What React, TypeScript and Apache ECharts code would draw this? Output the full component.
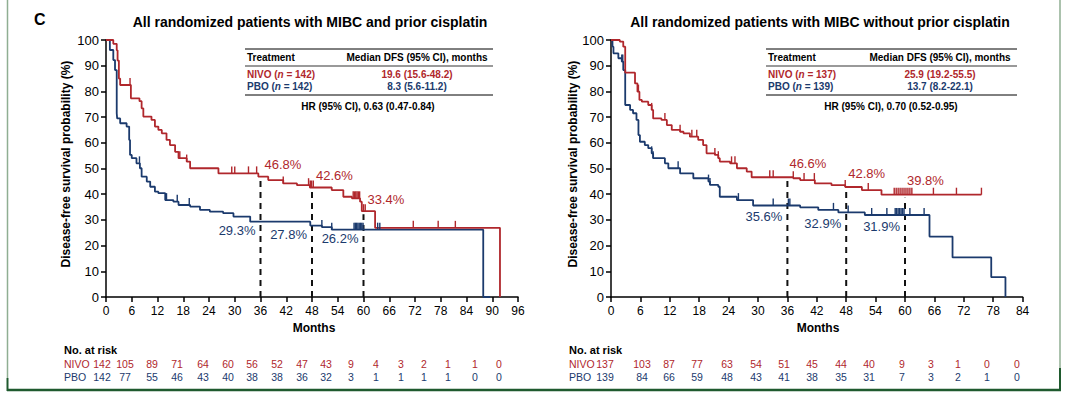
import React, { useEffect, useRef } from 'react';
import * as echarts from 'echarts';

const RED = '#b0272c';
const BLUE = '#1b3a6d';
const FONT = '"Liberation Sans", Arial, Helvetica, sans-serif';

// ---------- Data ----------
const leftTitle = 'All randomized patients with MIBC and prior cisplatin';
const rightTitle = 'All randomized patients with MIBC without prior cisplatin';

const leftNivoCurve: [number, number][] = [
  [0, 100], [1.7, 98.5], [2.5, 96], [2.7, 92], [3.0, 85], [3.3, 82.5], [5.8, 77.3], [7.8, 76.2],
  [8.3, 73.4], [8.7, 70.2], [10.6, 68.9], [11.4, 66.3], [12.2, 65], [13.0, 63.7], [14.1, 61.1],
  [14.9, 59.1], [16.1, 56.5], [16.9, 54], [18.8, 52.7], [19.6, 50.1], [26.2, 48.1], [35.5, 46.8],
  [37.8, 45.5], [41.3, 44.2], [44.5, 43.5], [47.5, 42.6], [52.6, 41.6], [55.3, 39.0], [57.3, 38.4],
  [59.2, 37.1], [59.6, 33.4], [62.7, 26.9], [91.8, 0],
];
const leftPboCurve: [number, number][] = [
  [0, 100], [0.9, 96.1], [1.7, 92.2], [2.1, 88.3], [2.5, 71.5], [2.6, 69.5], [3.3, 67.6], [4.8, 66.3],
  [5.4, 61.1], [5.6, 55.3], [6.0, 54], [7.1, 52], [7.9, 50.1], [8.3, 46.8], [9.5, 44.9], [10.3, 42.9],
  [11.4, 41], [12.2, 40.4], [13.8, 37.7], [15.7, 37.1], [16.9, 35.8], [19.6, 35.2], [21.9, 33.9],
  [24.2, 33.2], [27.3, 32.6], [29.7, 31.3], [33.6, 29.3], [47.6, 27.8], [50.3, 27.2], [52.6, 26.2],
  [87.9, 0], [89.5, 0],
];
const rightNivoCurve: [number, number][] = [
  [0, 100], [1.8, 99.4], [2.5, 97.4], [2.9, 87.3], [4.9, 83.1], [5.4, 79.9], [5.8, 76.7], [6.3, 76],
  [7.6, 74.7], [8.3, 72.8], [8.6, 69.5], [10.3, 68.9], [11.4, 66.9], [12.4, 65], [14.1, 64.3],
  [14.8, 63.7], [16.1, 62.4], [17.8, 61.1], [18.8, 59.1], [19.5, 55.9], [21.2, 55.3], [21.9, 54],
  [22.2, 52.7], [24.3, 52], [25.7, 50.1], [27.7, 48.8], [28.7, 46.6], [37.2, 46.2], [38.6, 45.5],
  [41.6, 44.2], [45.0, 43.5], [47.8, 42.8], [51.2, 41.6], [55.2, 39.8], [75.6, 39.8],
];
const rightPboCurve: [number, number][] = [
  [0, 100], [0.3, 97.4], [0.5, 94.8], [1.5, 92.9], [2.2, 91.6], [2.5, 88.3], [2.9, 74.7], [3.9, 72.8],
  [4.5, 71.5], [5.2, 68.9], [5.6, 63], [5.9, 60.4], [6.9, 59.1], [7.6, 57.9], [8.3, 55.9], [8.6, 54],
  [11.0, 52], [11.7, 50.1], [14.1, 48.1], [16.8, 46.2], [19.9, 44.9], [20.2, 43.6], [21.9, 42.9],
  [22.2, 39], [25.7, 37.7], [29.0, 35.6], [38.6, 34.9], [42.3, 33.9], [46.4, 32.9], [51.8, 31.9],
  [65.0, 23.5], [69.7, 15.4], [77.6, 7.7], [80.5, 0],
];

const leftNivoCensor = [5.6, 17.2, 18.8, 29.3, 30.0, 33.2, 35.1, 41.3, 47.2, 47.6, 47.9, 48.3,
  57.6, 57.9, 58.2, 58.5, 58.8, 59.1, 60.0, 60.4, 71.6, 77.4, 81.4];
const leftPboCensor = [7.8, 14.1, 16.6, 19.4, 50.3, 52.6, 57.8, 58.1, 58.4, 58.7, 59.0, 59.3, 59.6,
  59.9, 63.3, 63.8];
const rightNivoCensor = [5.6, 8.3, 11.0, 14.1, 16.5, 17.5, 21.2, 21.9, 24.6, 25.3, 32.4, 33.1, 37.2,
  39.4, 41.5, 47.8, 52.5, 57.8, 58.2, 58.6, 59.0, 59.4, 59.8, 60.2, 60.6, 61.0, 61.4, 65.8, 70.5, 75.6];
const rightPboCensor = [2.2, 2.4, 8.3, 8.6, 13.7, 19.9, 20.2, 26.0, 33.1, 36.2, 36.5, 45.4, 48.4,
  53.2, 56.3, 58.0, 58.3, 58.6, 58.9, 59.2, 59.5, 59.8, 61.0, 63.9];

const landmarkMonths = [36, 48, 60];
const leftNivoLandmark = [46.8, 42.6, 33.4];
const leftPboLandmark = [29.3, 27.8, 26.2];
const rightNivoLandmark = [46.6, 42.8, 39.8];
const rightPboLandmark = [35.6, 32.9, 31.9];

const leftRiskNivo = [142, 105, 89, 71, 64, 60, 56, 52, 47, 43, 9, 4, 3, 2, 1, 1, 0];
const leftRiskPbo = [142, 77, 55, 46, 43, 40, 38, 38, 36, 32, 3, 1, 1, 1, 1, 0, 0];
const rightRiskNivo = [137, 103, 87, 77, 63, 54, 51, 45, 44, 40, 9, 3, 1, 0, 0];
const rightRiskPbo = [139, 84, 66, 59, 48, 43, 41, 38, 35, 31, 7, 3, 2, 1, 0];

const leftTable = { nivo: '142', pbo: '142', nivoMedian: '19.6 (15.6-48.2)', pboMedian: '8.3 (5.6-11.2)', hr: 'HR (95% CI), 0.63 (0.47-0.84)' };
const rightTable = { nivo: '137', pbo: '139', nivoMedian: '25.9 (19.2-55.5)', pboMedian: '13.7 (8.2-22.1)', hr: 'HR (95% CI), 0.70 (0.52-0.95)' };

// ---------- layout (pixel columns of the risk tables) ----------
const leftRiskX = [102, 125, 152, 177, 203, 228, 252, 277, 302, 326, 351, 376, 401, 424, 448, 475, 499];
const rightRiskX = [605, 642, 669, 697, 727, 756, 784, 812, 841, 869, 902, 931, 958, 987, 1017];

// ---------- helpers ----------
function stepAt(curve: [number, number][], t: number) {
  let v = curve[0][1];
  for (const [x, y] of curve) {
    if (x <= t) v = y; else break;
  }
  return v;
}

function txt(x: number, y: number, text: string, o: any = {}) {
  return {
    type: 'text', x, y, silent: true, rotation: o.rotation || 0,
    style: {
      text, fill: o.fill || '#000', fontSize: o.size || 12, fontWeight: o.weight || 'normal',
      fontFamily: FONT, align: o.align || 'left', verticalAlign: 'middle', rich: o.rich,
    },
  };
}
function hline(x1: number, x2: number, y: number, stroke: string, w: number) {
  return { type: 'line', silent: true, shape: { x1, y1: y, x2, y2: y }, style: { stroke, lineWidth: w } };
}
function vline(x: number, y1: number, y2: number, stroke: string, w: number) {
  return { type: 'line', silent: true, shape: { x1: x, y1, x2: x, y2 }, style: { stroke, lineWidth: w } };
}

function tableGraphics(x0: number, x1: number, col: number, hrX: number, d: any) {
  const rich = (c: string) => ({
    a: { fill: c, fontSize: 10, fontWeight: 'bold', fontFamily: FONT },
    i: { fill: c, fontSize: 10, fontWeight: 'bold', fontStyle: 'italic', fontFamily: FONT },
  });
  return [
    hline(x0, x1, 49, '#000', 1),
    txt(x0 + 2, 57.5, 'Treatment', { size: 10, weight: 'bold' }),
    txt(col, 57.5, 'Median DFS (95% CI), months', { size: 10, weight: 'bold', align: 'center' }),
    hline(x0, x1, 66, '#999', 2),
    txt(x0 + 2, 74.5, `{a|NIVO (}{i|n}{a| = ${d.nivo})}`, { rich: rich(RED) }),
    txt(col, 74.5, d.nivoMedian, { size: 10, weight: 'bold', align: 'center', fill: RED }),
    txt(x0 + 2, 86.5, `{a|PBO (}{i|n}{a| = ${d.pbo})}`, { rich: rich(BLUE) }),
    txt(col, 86.5, d.pboMedian, { size: 10, weight: 'bold', align: 'center', fill: BLUE }),
    hline(x0, x1, 95, '#000', 1),
    txt(hrX, 106, d.hr, { size: 10, weight: 'bold', align: 'center' }),
  ];
}

function riskGraphics(xLabel: number, xs: number[], nivo: number[], pbo: number[]) {
  const els: any[] = [
    txt(xLabel, 350, 'No. at risk', { size: 11, weight: 'bold' }),
    txt(xLabel, 364, 'NIVO', { size: 10.5, fill: RED }),
    txt(xLabel, 376.5, 'PBO', { size: 10.5, fill: BLUE }),
  ];
  nivo.forEach((v, i) => els.push(txt(xs[i], 364, String(v), { size: 10.5, fill: RED, align: 'center' })));
  pbo.forEach((v, i) => els.push(txt(xs[i], 376.5, String(v), { size: 10.5, fill: BLUE, align: 'center' })));
  return els;
}

function panelSeries(idx: number, nivo: [number, number][], pbo: [number, number][], nivoC: number[], pboC: number[],
  nivoL: number[], pboL: number[], redOff: number[], blueOff: number[]) {
  const base = { xAxisIndex: idx, yAxisIndex: idx };
  const s: any[] = [];
  landmarkMonths.forEach((m, i) => {
    s.push({
      ...base, type: 'line', showSymbol: false, silent: true, z: 1,
      data: [[m, 0], [m, nivoL[i] - 1.2]],
      lineStyle: { color: '#111', width: 2, type: [6, 5] },
    });
  });
  s.push({ ...base, type: 'line', step: 'end', showSymbol: false, data: pbo, lineStyle: { color: BLUE, width: 1.8 }, z: 3 });
  s.push({ ...base, type: 'line', step: 'end', showSymbol: false, data: nivo, lineStyle: { color: RED, width: 1.8 }, z: 3 });
  const censor = (times: number[], curve: [number, number][], color: string) => ({
    ...base, type: 'scatter', symbol: 'rect', symbolSize: [1.4, 7], symbolOffset: [0, -3.5], z: 4,
    itemStyle: { color, opacity: 1 }, silent: true,
    data: times.map((t) => [t, stepAt(curve, t)]),
  });
  s.push(censor(pboC, pbo, BLUE));
  s.push(censor(nivoC, nivo, RED));
  const lab = (vals: number[], color: string, off: number[], align: string) => ({
    ...base, type: 'scatter', symbolSize: 0, z: 5, silent: true,
    itemStyle: { opacity: 1 },
    data: landmarkMonths.map((m, i) => [m, vals[i]]),
    label: {
      show: true, position: off, align, verticalAlign: 'middle', color, opacity: 1, fontSize: 13, fontFamily: FONT,
      formatter: (p: any) => `${p.value[1].toFixed(1)}%`,
    },
  });
  s.push(lab(nivoL, RED, redOff, 'left'));
  s.push(lab(pboL, BLUE, blueOff, 'right'));
  return s;
}

function xAxisCfg(idx: number, max: number) {
  return {
    gridIndex: idx, type: 'value', min: 0, max, interval: 6,
    axisLine: { show: true, lineStyle: { color: '#000', width: 1.5 } },
    axisTick: { show: true, length: 5, lineStyle: { color: '#000', width: 1.5 } },
    axisLabel: { color: '#000', fontSize: 12, margin: 8, fontFamily: FONT },
    splitLine: { show: false },
  };
}
function yAxisCfg(idx: number) {
  return {
    gridIndex: idx, type: 'value', min: 0, max: 100, interval: 10,
    axisLine: { show: true, lineStyle: { color: '#000', width: 1.5 } },
    axisTick: { show: true, length: 5, lineStyle: { color: '#000', width: 1.5 } },
    axisLabel: { color: '#000', fontSize: 13, margin: 7, fontFamily: FONT },
    splitLine: { show: false },
  };
}

export default function App() {
  const ref = useRef<HTMLDivElement>(null);
  useEffect(() => {
    const chart = echarts.init(ref.current!, null, { renderer: 'svg' });
    const graphic: any[] = [
      // frame
      vline(7.5, 0, 378, '#8fae92', 1.5),
      vline(7.5, 378, 391, '#1f5a2e', 2),
      vline(1060, 0, 368, '#8fae92', 1.5),
      vline(1060, 368, 391, '#1f5a2e', 2),
      hline(7, 1061, 390, '#1f5a2e', 2.5),
      txt(34, 19, 'C', { size: 16, weight: 'bold' }),
      txt(310, 22, leftTitle, { size: 14, weight: 'bold', align: 'center' }),
      txt(820, 22, rightTitle, { size: 14, weight: 'bold', align: 'center' }),
      txt(66, 164, 'Disease-free survival probability (%)', { size: 12, weight: 'bold', align: 'center', rotation: Math.PI / 2 }),
      txt(573, 164, 'Disease-free survival probability (%)', { size: 12, weight: 'bold', align: 'center', rotation: Math.PI / 2 }),
      txt(314, 328, 'Months', { size: 12, weight: 'bold', align: 'center' }),
      txt(818, 328, 'Months', { size: 12, weight: 'bold', align: 'center' }),
      ...tableGraphics(245, 493, 417, 368, leftTable),
      ...tableGraphics(766, 1017, 940, 891, rightTable),
      ...riskGraphics(64, leftRiskX, leftRiskNivo, leftRiskPbo),
      ...riskGraphics(569, rightRiskX, rightRiskNivo, rightRiskPbo),
    ];
    chart.setOption({
      animation: false,
      backgroundColor: '#fff',
      grid: [
        { left: 106, right: 553, top: 40, bottom: 96 },
        { left: 611, right: 48.4, top: 40, bottom: 96 },
      ],
      xAxis: [xAxisCfg(0, 96), xAxisCfg(1, 84)],
      yAxis: [yAxisCfg(0), yAxisCfg(1)],
      series: [
        ...panelSeries(0, leftNivoCurve, leftPboCurve, leftNivoCensor, leftPboCensor, leftNivoLandmark, leftPboLandmark, [4, -12], [-5, 9]),
        ...panelSeries(1, rightNivoCurve, rightPboCurve, rightNivoCensor, rightPboCensor, rightNivoLandmark, rightPboLandmark, [2, -14], [-5, 11]),
      ],
      graphic,
    });
    return () => chart.dispose();
  }, []);
  return <div ref={ref} style={{ position: 'fixed', left: 0, top: 0, width: 1071, height: 393, background: '#fff' }} />;
}
